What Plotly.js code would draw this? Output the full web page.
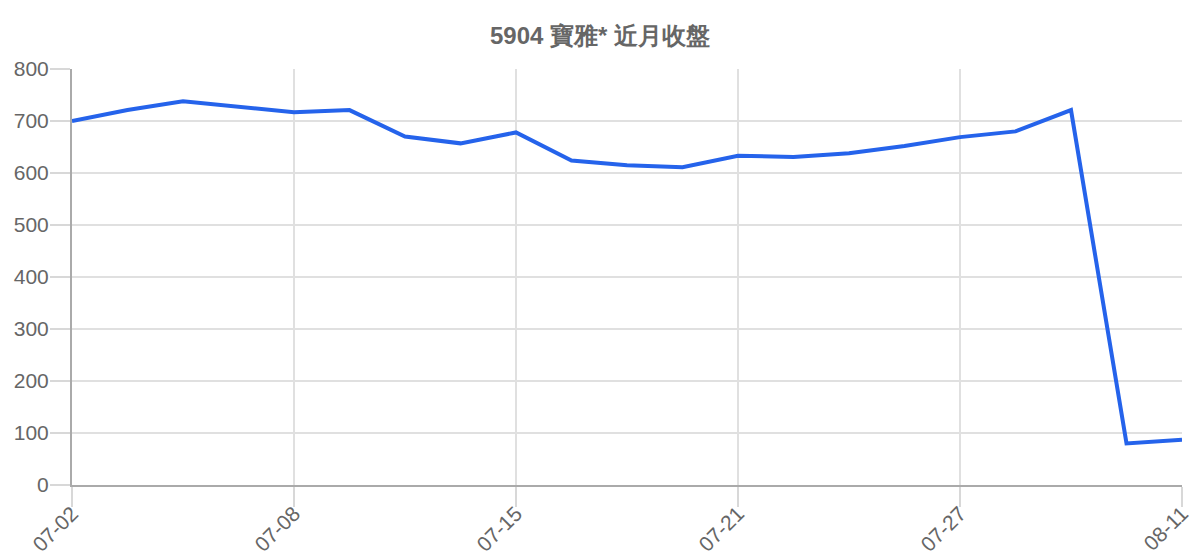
<!DOCTYPE html>
<html>
<head>
<meta charset="utf-8">
<script src="https://cdn.plot.ly/plotly-3.0.1.min.js"></script>
<style>
  html, body { margin: 0; padding: 0; background: #fff; }
  #myPlot { width: 1200px; height: 560px; }
</style>
</head>
<body>
<div id="myPlot"></div>
<script>
// trading days (category axis) and closing prices
let dates = ["07-02", "07-03", "07-04", "07-07", "07-08", "07-09", "07-10",
  "07-11", "07-15", "07-16", "07-17", "07-18", "07-21", "07-22", "07-23",
  "07-24", "07-27", "07-28", "07-29", "08-08", "08-11"];
let closes = [700, 721, 738, 727, 717, 721, 670, 657, 678, 624, 615,
  611, 633, 631, 638, 652, 669, 680, 721, 80, 87];
let tickDates = ["07-02", "07-08", "07-15", "07-21", "07-27", "08-11"];

let gray = "#666666";
let font = "Liberation Sans, Arial, sans-serif";

var trace1 = {
  x: dates,
  y: closes,
  type: "scatter",
  mode: "lines",
  line: { color: "#2563eb", width: 4 },
  hoverinfo: "x+y"
};

var layout = {
  width: 1200,
  height: 560,
  margin: { l: 72, r: 18, t: 69, b: 75 },
  paper_bgcolor: "#ffffff",
  plot_bgcolor: "#ffffff",
  showlegend: false,
  title: {
    text: "<b>5904 寶雅* 近月收盤</b>",
    font: { family: font, size: 24, color: gray },
    x: 0.5,
    xanchor: "center",
    y: 0.937,
    yanchor: "middle"
  },
  xaxis: {
    type: "category",
    range: [0, dates.length - 1],
    tickmode: "array",
    tickvals: tickDates,
    ticktext: tickDates,
    tickangle: -45,
    ticks: "outside",
    ticklen: 20,
    tickcolor: "#d8d8d8",
    tickwidth: 1.5,
    showgrid: true,
    gridcolor: "#e0e0e0",
    gridwidth: 1.5,
    showline: true,
    linecolor: "#aaaaaa",
    linewidth: 2,
    zeroline: false,
    ticklabelstandoff: -14,
    tickfont: { family: font, size: 21, color: gray }
  },
  yaxis: {
    range: [0, 800],
    dtick: 100,
    ticks: "outside",
    ticklen: 20,
    tickcolor: "#d8d8d8",
    tickwidth: 1.5,
    showgrid: true,
    gridcolor: "#e0e0e0",
    gridwidth: 1.5,
    showline: true,
    linecolor: "#aaaaaa",
    linewidth: 2,
    zeroline: false,
    ticklabelstandoff: -3,
    tickfont: { family: font, size: 21, color: gray }
  }
};

Plotly.newPlot("myPlot", [trace1], layout, { displayModeBar: false });
</script>
</body>
</html>
